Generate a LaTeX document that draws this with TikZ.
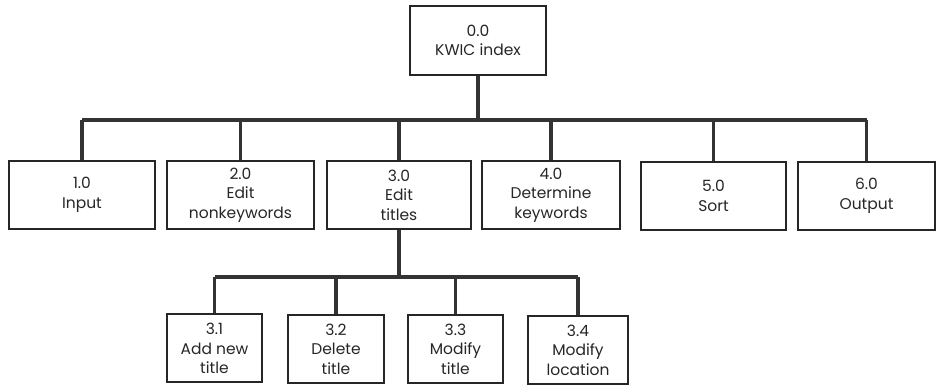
\documentclass[tikz,border=0pt]{standalone}
\usepackage{fontspec}
\setmainfont{Poppins}
\begin{document}
\begin{tikzpicture}[x=1pt,y=-1pt,
  box/.style={draw=black!85, line width=2pt, inner sep=0pt, align=center,
    text=black!85, font=\fontsize{15.5}{19.5}\selectfont, minimum height=68pt},
  conn/.style={draw=black!80, line width=3.4pt}]
\useasboundingbox (0,0) rectangle (938,387);
\node[box, minimum width=136pt, minimum height=69pt] (top) at (478,40.5) {0.0\\KWIC index};
\node[box, minimum width=146pt] (n1) at (82,195) {1.0\\Input};
\node[box, minimum width=147pt] (n2) at (240.5,195) {2.0\\Edit\\nonkeywords};
\node[box, minimum width=144pt] (n3) at (399,195) {3.0\\Edit\\titles};
\node[box, minimum width=138pt] (n4) at (551,195) {4.0\\Determine\\keywords};
\node[box, minimum width=145pt] (n5) at (713.5,196) {5.0\\Sort};
\node[box, minimum width=137pt] (n6) at (866.5,196) {6.0\\Output};
\node[box, minimum width=95pt] (m1) at (214.5,348.5) {3.1\\Add new\\title};
\node[box, minimum width=96pt] (m2) at (336,349) {3.2\\Delete\\title};
\node[box, minimum width=95pt] (m3) at (455.5,349) {3.3\\Modify\\title};
\node[box, minimum width=100pt] (m4) at (578,350) {3.4\\Modify\\location};
\coordinate (b1) at (0,120);
\coordinate (b2) at (0,277);
\draw[conn] (top.south) -- (top.south |- b1);
\draw[conn] (n1.north |- b1) -- (n6.north |- b1);
\foreach \n in {n1,n2,n3,n4,n5,n6} \draw[conn] (\n.north |- b1) -- (\n.north);
\draw[conn] (n3.south) -- (n3.south |- b2);
\draw[conn] (m1.north |- b2) -- (m4.north |- b2);
\foreach \n in {m1,m2,m3,m4} \draw[conn] (\n.north |- b2) -- (\n.north);
\end{tikzpicture}
\end{document}
